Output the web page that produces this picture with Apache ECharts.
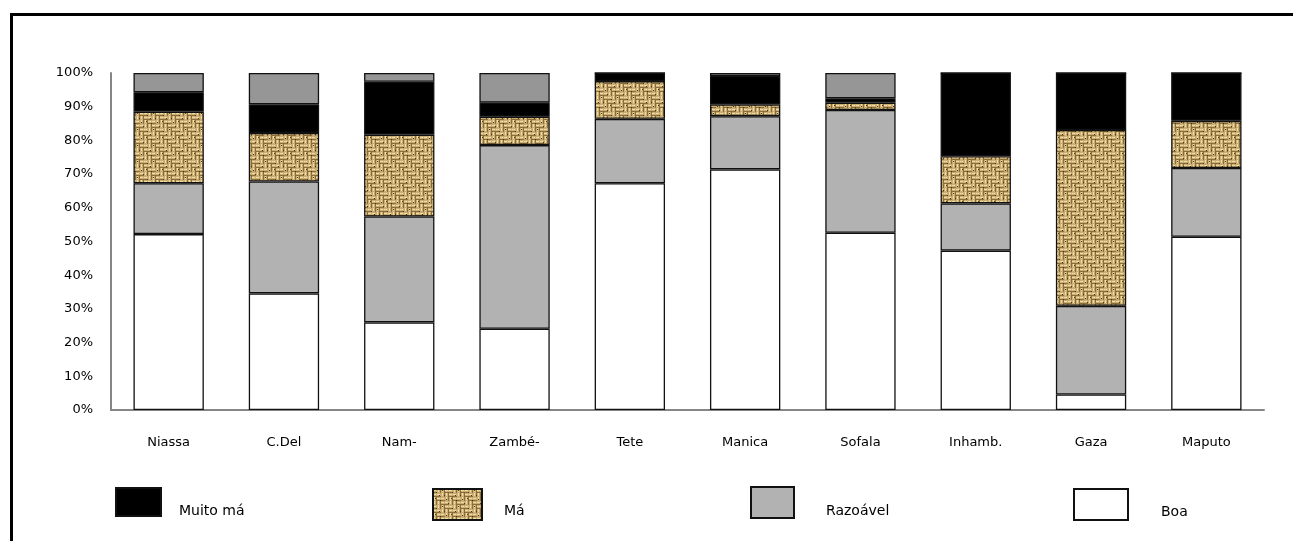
<!DOCTYPE html>
<html><head><meta charset="utf-8">
<script src="https://cdn.jsdelivr.net/npm/echarts@6/dist/echarts.min.js"></script>
<style>html,body{margin:0;padding:0;background:#fff}#c{width:1293px;height:541px}</style>
</head><body><div id="c"></div>
<script>
const categories = ['Niassa','C.Del','Nam-','Zambé-','Tete','Manica','Sofala','Inhamb.','Gaza','Maputo'];
const boa      = [52.2,34.6,26.0,24.1,67.3,71.4,52.6,47.3, 4.6,51.4];
const razoavel = [15.1,33.2,31.4,54.5,19.1,15.8,36.4,14.0,26.3,20.4];
const ma       = [21.2,14.4,24.3, 8.4,11.2, 3.5, 2.2,14.0,52.2,14.0];
const muitoMa  = [ 5.8, 8.5,15.7, 4.2, 2.4, 8.4, 1.3,24.7,16.9,14.2];
const outro    = [ 5.7, 9.3, 2.6, 8.8, 0.0, 0.9, 7.5, 0.0, 0.0, 0.0];
const yTicks = [0,10,20,30,40,50,60,70,80,90,100];

function makeBurlap(){
  const c=document.createElement('canvas'); c.width=16; c.height=16;
  const g=c.getContext('2d');
  g.fillStyle='#8a6d3a'; g.fillRect(0,0,16,16);
  for(let by=0;by<4;by++)for(let bx=0;bx<4;bx++){
    const x=bx*4,y=by*4;
    const h=((bx*3+by*5)%4)<2;
    g.fillStyle='#c9ad72';
    if(h){ g.fillRect(x,y,4,3);} else { g.fillRect(x,y,3,4);}
    g.fillStyle='#efdca4';
    if(h){ g.fillRect(x,y+1,3,1);} else { g.fillRect(x+1,y,1,3);}
  }
  g.fillStyle='#4e3818';
  [[3,3],[7,11],[11,6],[15,14],[2,9],[9,1],[13,10],[6,6]].forEach(p=>g.fillRect(p[0],p[1],1,1));
  return c;
}
const burlap = {image: makeBurlap(), repeat:'repeat'};

const font = 'DejaVu Sans';
const bw = 1.3, bc = '#111';
function ser(name, data, color, bcol){
  return {name, type:'bar', stack:'s', data, barWidth:'61%',
    itemStyle:{color, borderColor:bcol||bc, borderWidth:bw}};
}
const legendDefs = [
  {name:'Muito má', left:115, top:487, w:45, h:28, pad:13, dy:9},
  {name:'Má', left:432, top:488, w:49, h:31, pad:17, dy:7},
  {name:'Razoável', left:750, top:486, w:43, h:31, pad:27, dy:9},
  {name:'Boa', left:1073, top:488, w:54, h:31, pad:28, dy:8}
];
const chart = echarts.init(document.getElementById('c'), null, {renderer:'canvas'});
chart.setOption({
  animation:false,
  backgroundColor:'#fff',
  graphic:[{type:'rect', shape:{x:11.5,y:14.5,width:1400,height:700},
    style:{fill:'none', stroke:'#000', lineWidth:3}, silent:true, z:100}],
  legend: legendDefs.map(d=>({data:[{name:d.name, icon:'rect'}], left:d.left, top:d.top, itemWidth:d.w, itemHeight:d.h,
    padding:0, selectedMode:false,
    formatter: n => '{t|' + n + '}',
    textStyle:{fontFamily:font, fontSize:14, color:'#000',
      rich:{t:{fontFamily:font, fontSize:14, color:'#000', padding:[2*d.dy,0,0,d.pad]}}}})),
  grid:{left:111, top:73, right:29, bottom:131, containLabel:false},
  xAxis:{type:'category', data:categories,
    axisLine:{lineStyle:{color:'#868686', width:2}}, axisTick:{show:false},
    axisLabel:{fontFamily:font, fontSize:13, color:'#000', margin:26}},
  yAxis:{type:'value', min:0, max:100, interval:10,
    axisLine:{show:true, lineStyle:{color:'#868686', width:2}}, axisTick:{show:false},
    splitLine:{show:false},
    axisLabel:{fontFamily:font, fontSize:13, color:'#000', margin:18,
      formatter:v=> yTicks.includes(v) ? v+'%' : ''}},
  series:[
    ser('Boa', boa, '#ffffff'),
    ser('Razoável', razoavel, '#b2b2b2'),
    ser('Má', ma, burlap),
    ser('Muito má', muitoMa, '#000000'),
    ser('Outro', outro, '#969696')
  ]
});
</script></body></html>
